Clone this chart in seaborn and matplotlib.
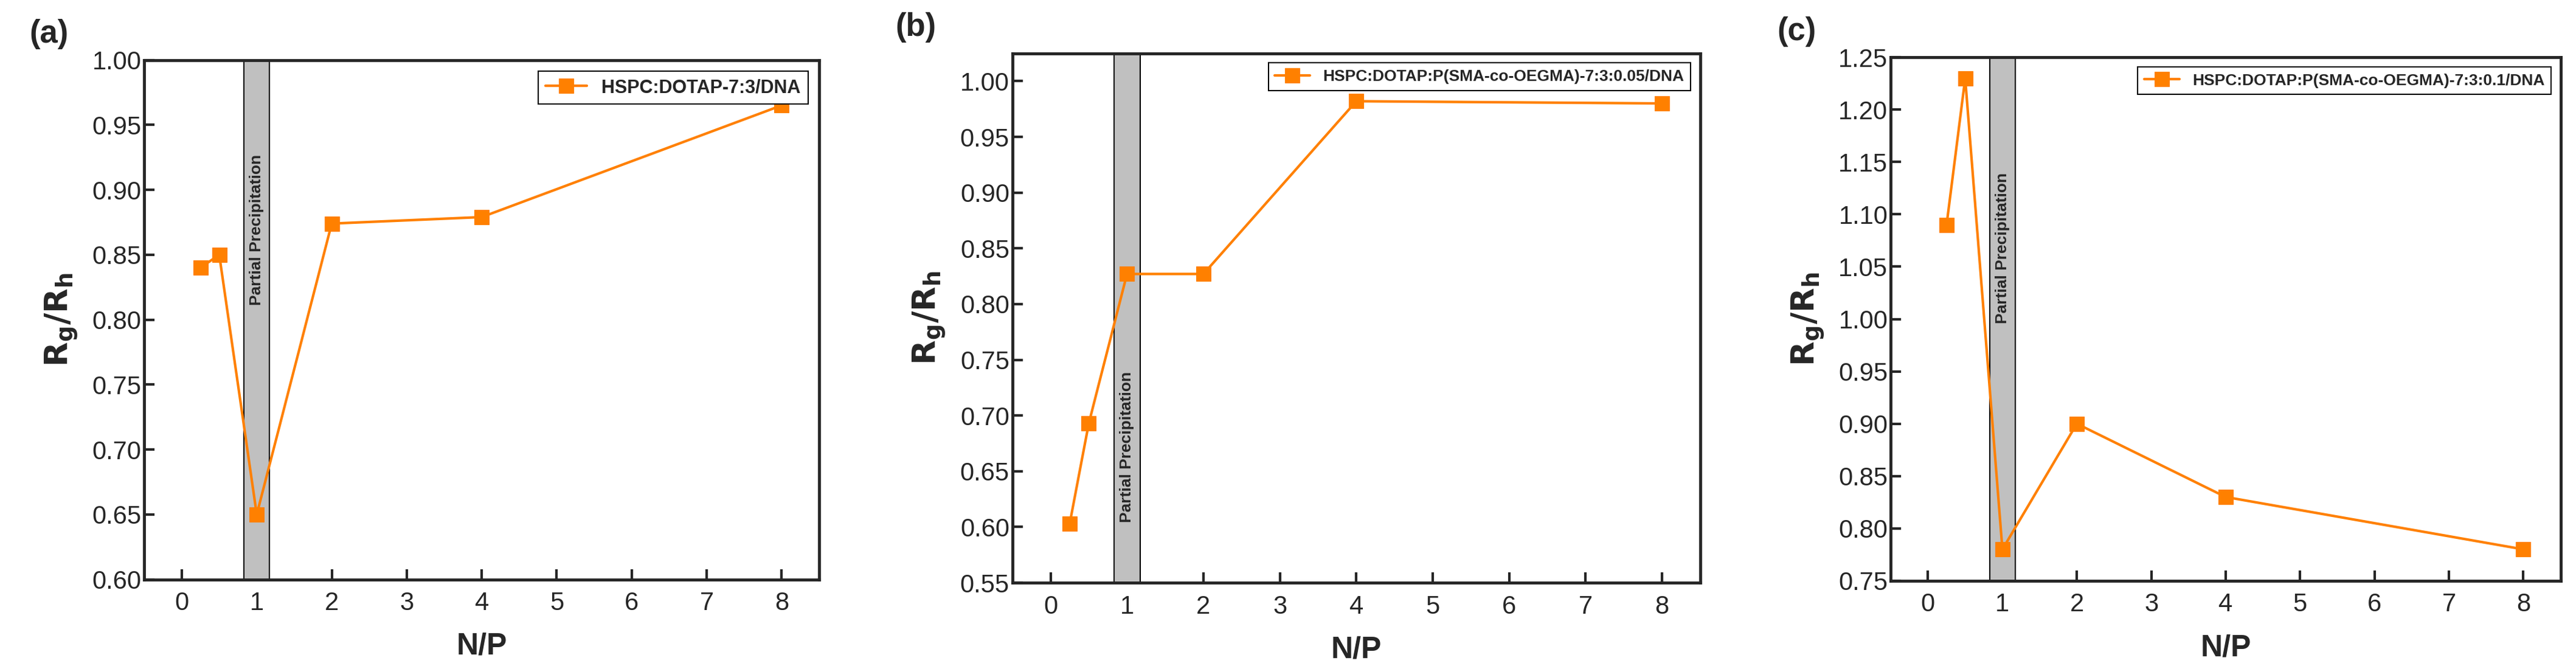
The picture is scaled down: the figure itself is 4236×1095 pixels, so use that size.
import matplotlib
matplotlib.use('Agg')
import matplotlib.pyplot as plt
import seaborn as sns
import pandas as pd

np_ratio = [0.25, 0.5, 1, 2, 4, 8]
rg_rh_a = [0.84, 0.85, 0.65, 0.874, 0.879, 0.965]
rg_rh_b = [0.603, 0.693, 0.827, 0.827, 0.982, 0.980]
rg_rh_c = [1.09, 1.23, 0.78, 0.90, 0.83, 0.78]
labels = ['HSPC:DOTAP-7:3/DNA',
          'HSPC:DOTAP:P(SMA-co-OEGMA)-7:3:0.05/DNA',
          'HSPC:DOTAP:P(SMA-co-OEGMA)-7:3:0.1/DNA']
letters = ['(a)', '(b)', '(c)']
ylims = [(0.60, 1.00), (0.55, 1.025), (0.75, 1.25)]
yticks = [[0.60 + 0.05 * i for i in range(9)],
          [0.55 + 0.05 * i for i in range(10)],
          [0.75 + 0.05 * i for i in range(11)]]
text_y = [0.869, 0.672, 1.068]
span = (0.83, 1.17)

sns.set_style('ticks')
plt.rcParams['font.family'] = ['Liberation Sans', 'DejaVu Sans']

fig = plt.figure(figsize=(42.36, 10.95), dpi=100)
boxes = [[0.056, 0.13, 0.262, 0.78], [0.393, 0.125, 0.267, 0.795], [0.734, 0.128, 0.26, 0.786]]
orange = '#FF8000'

for i, ys in enumerate([rg_rh_a, rg_rh_b, rg_rh_c]):
    ax = fig.add_axes(boxes[i])
    df = pd.DataFrame({'N/P': np_ratio, 'R': ys})
    ax.axvspan(span[0], span[1], facecolor='#C0C0C0', edgecolor='black', lw=1.5, zorder=1)
    ax.text(1.0, text_y[i], 'Partial Precipitation', rotation=90, ha='center', va='center',
            fontsize=19, fontweight='bold', zorder=2)
    sns.lineplot(data=df, x='N/P', y='R', marker='s', color=orange, lw=3, markersize=17,
                 markeredgecolor=orange, label=labels[i], ax=ax, zorder=3)
    ax.set_xlim(-0.5, 8.5)
    ax.set_ylim(*ylims[i])
    ax.set_xticks(range(9))
    ax.set_yticks(yticks[i])
    ax.set_yticklabels([f'{v:.2f}' for v in yticks[i]])
    ax.tick_params(labelsize=30, width=3, length=12, direction='in')
    ax.tick_params(axis='x', pad=14)
    for s in ax.spines.values():
        s.set_linewidth(3.5)
    ax.set_xlabel('N/P', fontsize=36, fontweight='bold', labelpad=20)
    ax.set_ylabel(r'$\mathbf{R_g/R_h}$', fontsize=38, labelpad=14)
    leg = ax.legend(loc='upper right', fontsize=22, prop={'weight': 'bold', 'size': 22 if i == 0 else 19},
                    fancybox=False, edgecolor='black', framealpha=1, handlelength=2.2,
                    borderaxespad=0.6)
    leg.get_frame().set_linewidth(1.5)
    ax.text(-0.17, 1.02, letters[i], transform=ax.transAxes, fontsize=38, fontweight='bold',
            ha='left', va='bottom')

fig.savefig('out.png', dpi=100)
